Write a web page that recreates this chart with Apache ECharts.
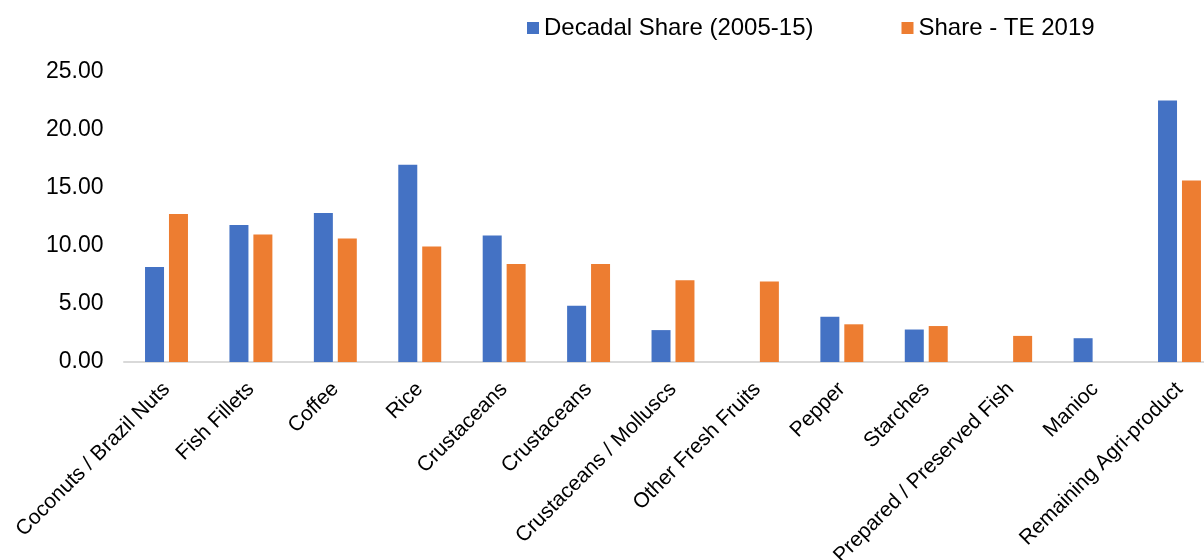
<!DOCTYPE html>
<html>
<head>
<meta charset="utf-8">
<script src="https://cdn.jsdelivr.net/npm/echarts@6/dist/echarts.min.js"></script>
<style>
  html, body { margin: 0; padding: 0; background: #fff; }
  #chart { width: 1204px; height: 560px; }
</style>
</head>
<body>
<div id="chart"></div>
<script>
// Product categories along the x axis
const categories = [
  'Coconuts / Brazil Nuts', 'Fish Fillets', 'Coffee', 'Rice', 'Crustaceans',
  'Crustaceans', 'Crustaceans / Molluscs', 'Other Fresh Fruits', 'Pepper',
  'Starches', 'Prepared / Preserved Fish', 'Manioc', 'Remaining Agri-product'
];

// Share values (%) per category
const decadalShare = [8.2, 11.8, 12.85, 17.0, 10.9, 4.85, 2.75, 0, 3.9, 2.8, 0, 2.05, 22.55];
const shareTE2019 = [12.75, 11.0, 10.65, 9.95, 8.45, 8.45, 7.05, 6.95, 3.25, 3.1, 2.25, 0, 15.65];

const seriesNames = ['Decadal Share (2005-15)', 'Share - TE 2019'];
const colors = ['#4472C4', '#ED7D31'];

const chart = echarts.init(document.getElementById('chart'));

chart.setOption({
  animation: false,
  color: colors,
  textStyle: { fontFamily: 'Liberation Sans, Arial, sans-serif' },
  legend: {
    data: seriesNames,
    left: 527,
    top: 16,
    padding: 0,
    icon: 'rect',
    itemWidth: 12,
    itemHeight: 12,
    itemGap: 88,
    textStyle: { fontSize: 24, color: '#000' }
  },
  grid: [
    // bar grid: categories placed on the grid edges (boundaryGap off)
    { left: 166.5, right: 24.5, top: 72, height: 290, containLabel: false, outerBoundsMode: 'none' },
    // baseline grid: carries the light axis line across the full plot width
    { left: 124, right: 0, top: 72, height: 290, containLabel: false, outerBoundsMode: 'none' }
  ],
  xAxis: [
    {
      type: 'category',
      gridIndex: 0,
      data: categories,
      boundaryGap: false,
      axisLine: { show: false },
      axisTick: { show: false },
      splitLine: { show: false },
      axisLabel: {
        interval: 0,
        rotate: 45,
        margin: 24,
        fontSize: 21,
        color: '#000'
      }
    },
    {
      type: 'category',
      gridIndex: 1,
      data: categories,
      axisLine: { lineStyle: { color: '#d9d9d9', width: 2 } },
      axisTick: { show: false },
      axisLabel: { show: false }
    }
  ],
  yAxis: [
    {
      type: 'value',
      gridIndex: 0,
      min: 0,
      max: 25,
      interval: 5,
      axisLine: { show: false },
      axisTick: { show: false },
      splitLine: { show: false },
      axisLabel: {
        fontSize: 23,
        color: '#000',
        margin: 63,
        padding: [5, 0, 0, 0],
        formatter: v => v.toFixed(2)
      }
    },
    {
      type: 'value',
      gridIndex: 1,
      min: 0,
      max: 25,
      show: false
    }
  ],
  series: [
    {
      name: seriesNames[0],
      type: 'bar',
      data: decadalShare,
      barWidth: 19,
      barGap: '26%',
      clip: false
    },
    {
      name: seriesNames[1],
      type: 'bar',
      data: shareTE2019,
      barWidth: 19,
      barGap: '26%',
      clip: false
    }
  ]
});
</script>
</body>
</html>
